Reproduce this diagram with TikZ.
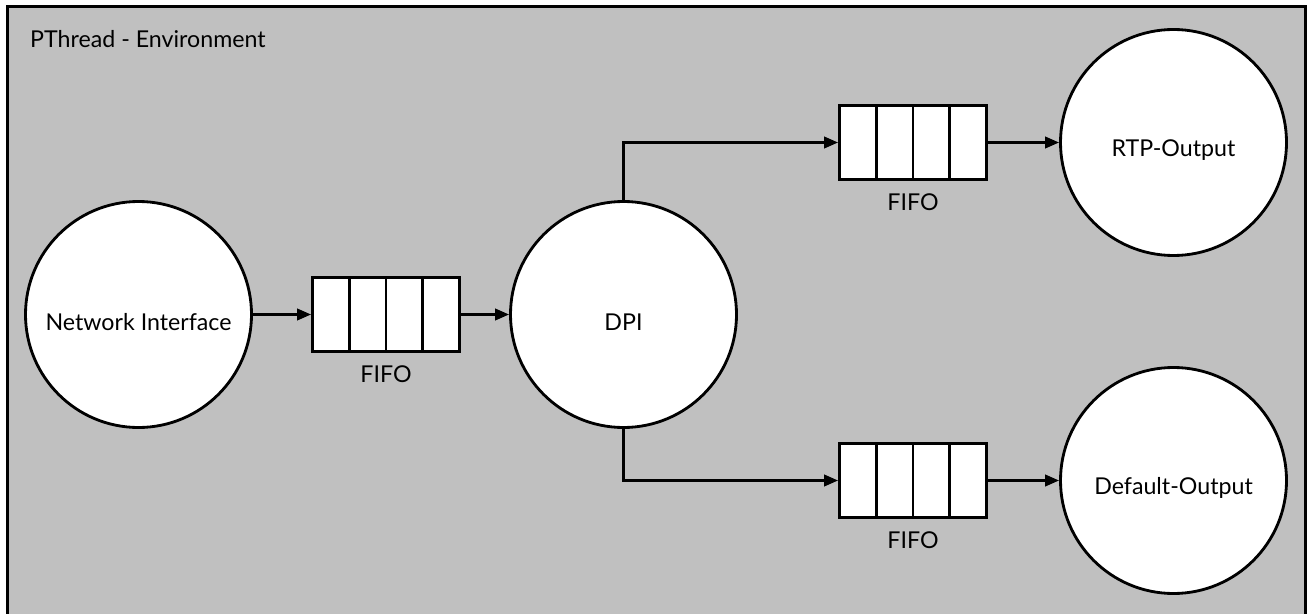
\documentclass[tikz,border=0pt]{standalone}
\usepackage{fontspec}
\setmainfont{Lato}
\usepackage{tikz}
\usetikzlibrary{arrows.meta, positioning}
\tikzset{>={Triangle[length=8pt, width=6.5pt]}}
\definecolor{envgray}{RGB}{192,192,192}

\begin{document}
\begin{tikzpicture}[
  font=\fontsize{13.2}{15}\selectfont,
  envbox/.style={draw, fill=envgray, line width=1.6pt},
  procnode/.style={circle, draw, fill=white, line width=1.6pt, minimum size=4.52cm, inner sep=0pt},
  proclabel/.style={yshift=-0.15cm},
  fifo/.style={rectangle, draw, fill=white, line width=1.6pt, minimum width=2.94cm, minimum height=1.48cm, inner sep=0pt,
    path picture={\foreach \i in {1,2,3}
      \draw[line width=1.6pt] ([xshift=\i*0.735cm]path picture bounding box.south west) -- ([xshift=\i*0.735cm]path picture bounding box.north west);},
    label={[label distance=0.13cm]below:FIFO}},
  flow/.style={->, line width=1.6pt}
]

\useasboundingbox (0,0) rectangle (26.18,12.26);

% Environment frame
\draw[envbox] (0.15,12.13) rectangle (26.11,-0.4);
\node[anchor=west] (envtitle) at (0.48,11.48) {PThread - Environment};

% Processing nodes
\node[procnode, label={[proclabel]center:Network Interface}] (netif) at (2.77,5.97) {};
\node[procnode, label={[proclabel]center:DPI}] (dpi) at (12.47,5.97) {};
\node[procnode, label={[proclabel]center:RTP-Output}] (rtpout) at (23.47,9.41) {};
\node[procnode, label={[proclabel]center:Default-Output}] (defout) at (23.47,2.65) {};

% Queues
\node[fifo] (fifoin) at (7.72,5.97) {};
\node[fifo] (fifortp) at (18.26,9.41) {};
\node[fifo] (fifodef) at (18.26,2.65) {};

% Data flow
\draw[flow] (netif) -- (fifoin);
\draw[flow] (fifoin) -- (dpi);
\draw[flow] (dpi.north) |- (fifortp);
\draw[flow] (dpi.south) |- (fifodef);
\draw[flow] (fifortp) -- (rtpout);
\draw[flow] (fifodef) -- (defout);

\end{tikzpicture}
\end{document}
